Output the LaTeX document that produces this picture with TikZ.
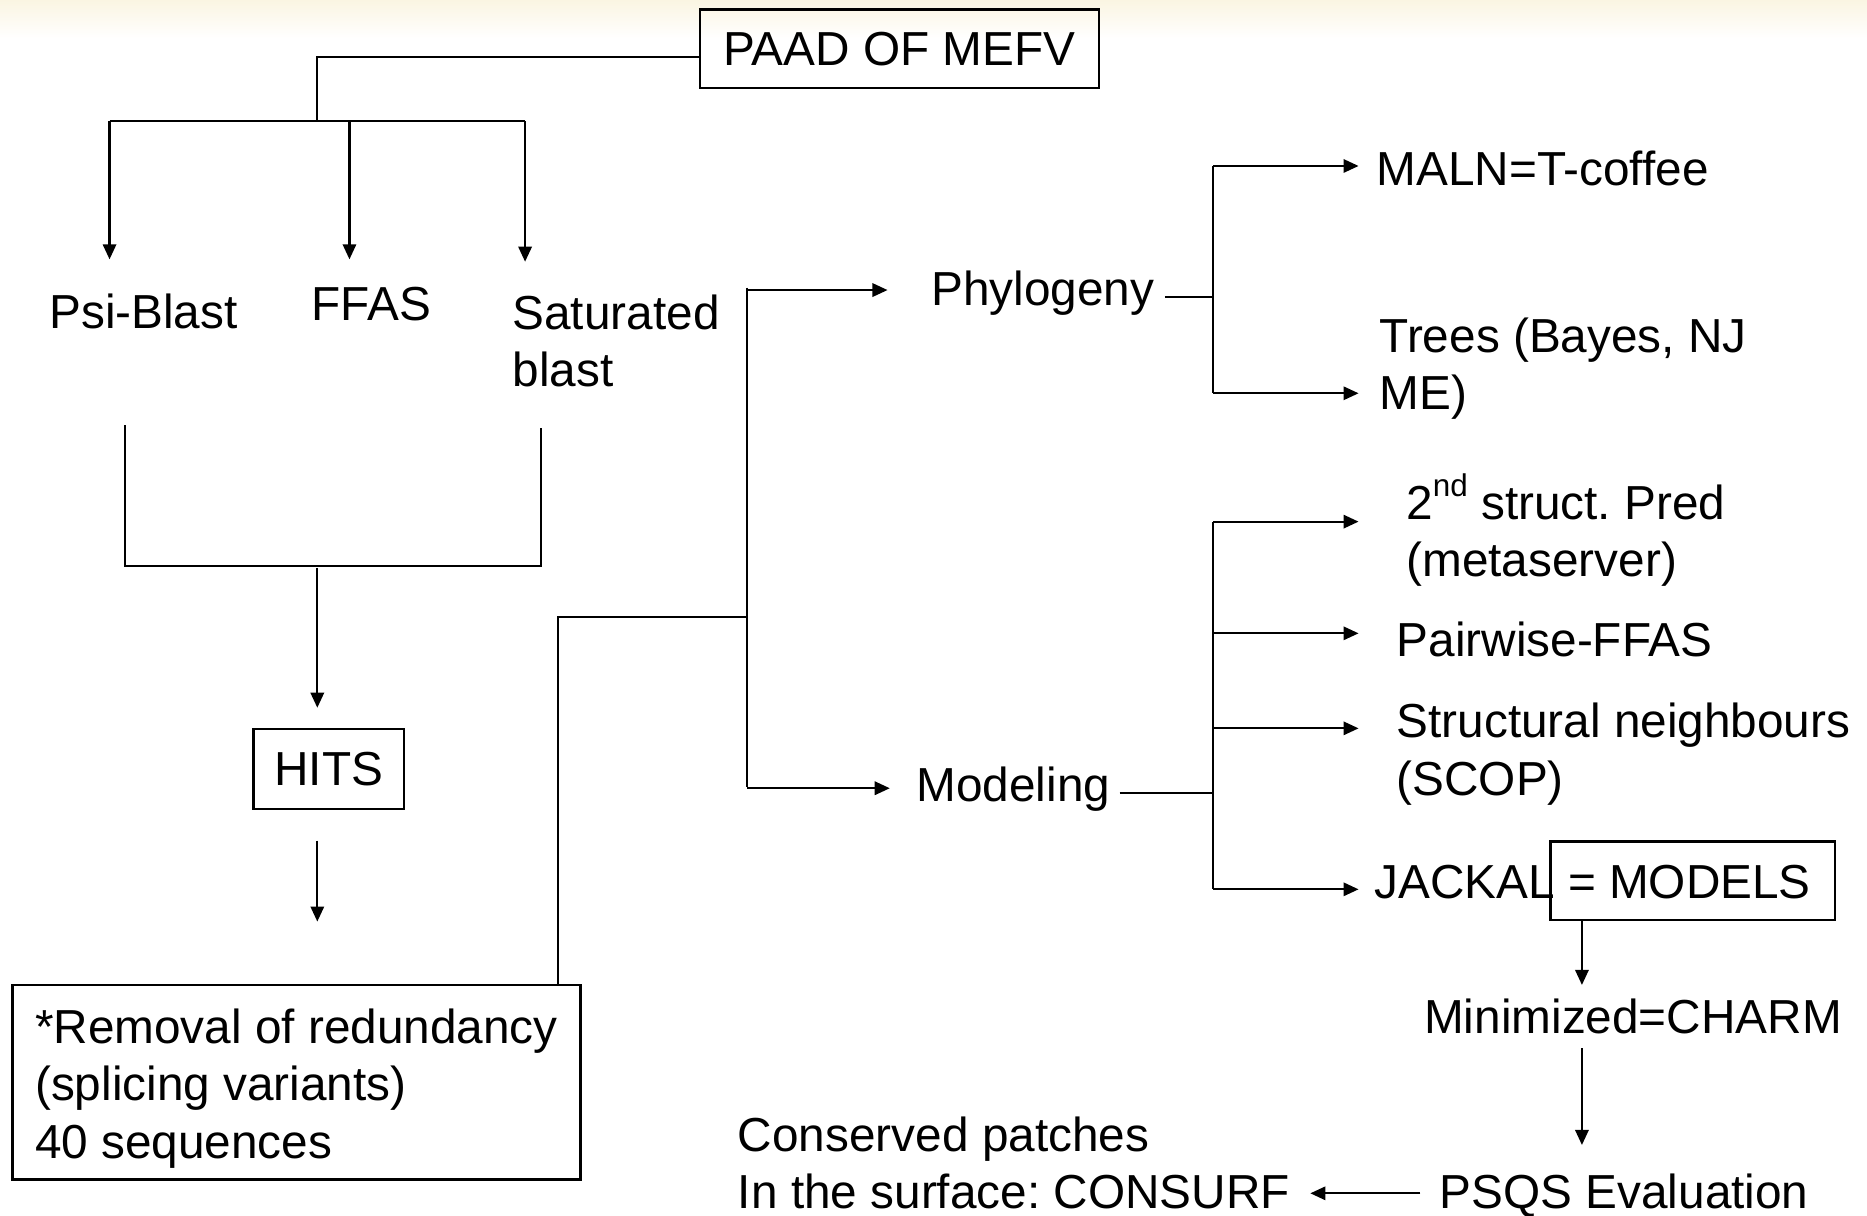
\documentclass[tikz,border=0pt]{standalone}
\usepackage{fontspec}
\setmainfont{Liberation Sans}
\usetikzlibrary{arrows.meta}
\definecolor{cream}{RGB}{250,245,226}
\begin{document}
\frenchspacing
\begin{tikzpicture}[x=0.01cm,y=-0.01cm,
  every node/.style={font=\fontsize{11.4}{13.66}\selectfont},
  lbl/.style={anchor=base west, inner sep=0pt, align=left},
  box/.style={draw, line width=0.6pt, inner sep=0pt},
  link/.style={line width=0.5pt},
  arr/.style={link, -{Triangle[length=3.6pt,width=3.2pt]}}]

% page frame and faint header band
\useasboundingbox (0,0) rectangle (1568,1021);
\shade[top color=cream, bottom color=white] (0,0) rectangle (1568,32);

% ---------- boxes ----------
\node[box, minimum width=3.35cm, minimum height=0.66cm] (paad) at (755.5,41) {PAAD OF MEFV};
\node[box, minimum width=1.263cm, minimum height=0.671cm] (hits) at (276.2,646) {HITS};
\node[box, align=left, minimum width=4.765cm, minimum height=1.635cm] (redund) at (249,909)
  {\rule{0pt}{11.2pt}*Removal of redundancy\\(splicing variants)\\40 sequences};

% ---------- labels (multi-line ones sit on their last baseline) ----------
\node[lbl] (psi)   at (40.7,276)   {Psi-Blast};
\node[lbl] (ffas)  at (261,269)    {FFAS};
\node[lbl] (sat)   at (429.8,324.7){Saturated\\blast};
\node[lbl] (phylo) at (781.6,256.2){Phylogeny};
\node[lbl] (model) at (769.1,673.3){Modeling};
\node[lbl] (maln)  at (1155.4,155.4){MALN=T-coffee};
\node[lbl] (trees) at (1158,344.3) {Trees (Bayes, NJ\\ME)};
\node[lbl] (pred)  at (1180.5,484.3){2\raisebox{0.9ex}{\fontsize{7.5}{8}\selectfont nd} struct. Pred\\(metaserver)};
\node[lbl] (pair)  at (1172.3,551.5){Pairwise-FFAS};
\node[lbl] (neigh) at (1172.3,667.7){Structural neighbours\\(SCOP)};
\node[lbl] (jack)  at (1153.6,754.5){JACKAL = MODELS};
\node[draw, line width=0.6pt, minimum width=2.388cm, minimum height=0.658cm, inner sep=0pt]
  (models) at (1421.7,739.8) {};
\node[lbl] (charm) at (1195.4,867.8){Minimized=CHARM};
\node[lbl] (psqs)  at (1208.5,1014.8){PSQS Evaluation};
\node[lbl] (cons)  at (619.1,1014.8){Conserved patches\\In the surface: CONSURF};

% ---------- junction points ----------
\coordinate (split) at (266.5,101.7);
\coordinate (tPsi)  at (92,217.8);
\coordinate (tFfas) at (293.5,217.8);
\coordinate (tSat)  at (441,219.8);
\coordinate (mL)    at (105,357);
\coordinate (mR)    at (454,359.7);
\coordinate (merge) at (266.5,475.5);
\coordinate (tHits) at (266.5,594.4);
\coordinate (hOut)  at (266.5,706);
\coordinate (tRed)  at (266.5,774);
\coordinate (rTurn) at (468.7,518.4);
\coordinate (fork)  at (627.7,518.4);
\coordinate (fTop)  at (627.7,243.6);
\coordinate (fBot)  at (627.7,662);
\coordinate (tPhy)  at (745.4,243.6);
\coordinate (tMod)  at (747.3,662);
\coordinate (pBus)  at (1019.1,249.2);
\coordinate (mBus)  at (1019.1,666.3);
\coordinate (tip)   at (1141,0);
\coordinate (mDown) at (1328.6,0);
\coordinate (cOut)  at (1328.6,880.4);
\coordinate (tPsqs) at (1328.6,961.6);
\coordinate (pOut)  at (1193,1002.2);
\coordinate (tCons) at (1100.5,1002.2);

% ---------- connectors: top fan-out ----------
\draw[link] (paad.west |- 0,48.2) -| (split);
\draw[link] (92,101.7) -- (441,101.7);
\draw[arr] (tPsi |- split) -- (tPsi);
\draw[arr] (tFfas |- split) -- (tFfas);
\draw[arr] (tSat |- split) -- (tSat);

% merge of the searches into HITS
\draw[link] (mL) |- (merge) -| (mR);
\draw[arr] (266.5,477) -- (tHits);
\draw[arr] (hOut) -- (tRed);

% from the filtered set to the two branches
\draw[link] (redund.north -| rTurn) -- (rTurn) -- (fork);
\draw[link] (627.7,241.5) -- (627.7,661);
\draw[arr] (fTop) -- (tPhy);
\draw[arr] (fBot) -- (tMod);

% phylogeny branch
\draw[link] (978.4,249.2) -- (pBus);
\draw[link] (1019.1,139.4) -- (1019.1,330.3);
\draw[arr] (1019.1,139.4) -- (tip |- 0,139.4);
\draw[arr] (1019.1,330.3) -- (tip |- 0,330.3);

% modeling branch
\draw[link] (940.3,666.3) -- (mBus);
\draw[link] (1019.1,438.1) -- (1019.1,746.9);
\foreach \yy in {438.1,531.9,611.7,746.9}
  \draw[arr] (1019.1,\yy) -- (tip |- 0,\yy);

% refinement chain
\draw[arr] (models.south -| mDown) -- (1328.6,827.2);
\draw[arr] (cOut) -- (tPsqs);
\draw[arr] (pOut) -- (tCons);
\end{tikzpicture}
\end{document}
